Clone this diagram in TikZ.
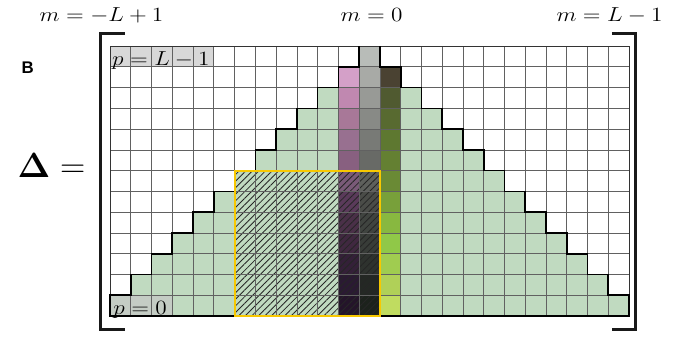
\documentclass[tikz,border=0pt]{standalone}
\usepackage[no-math]{fontspec}
\usetikzlibrary{patterns.meta}
\newfontfamily\panelfont{Liberation Sans}
\definecolor{cellgreen}{RGB}{192,218,192}
\definecolor{boxgold}{RGB}{248,200,0}
\newcommand{\widemath}[1]{\scalebox{1.15}[1]{$#1$}}

\begin{document}
\begin{tikzpicture}[x=0.519cm, y=0.519cm,
    cellline/.style={black!62, line width=0.5pt},
    stair/.style={black, line width=1.2pt, line join=miter},
    bracket/.style={black!90, line width=2pt},
    plabel/.style={fill=black!22, fill opacity=0.7},
    mathlabel/.style={font=\fontsize{14}{17}\selectfont, inner sep=0pt, anchor=base}]
    \useasboundingbox (-5.30,-1.06) rectangle (27.84,15.22);

    % nonzero entries
    \fill[cellgreen] (0,0) \foreach \k in {1,...,12} {-- (\k-1,\k) -- (\k,\k)} -- (12,13) -- (13,13)
        \foreach \k in {12,...,1} {-- (25-\k,\k) -- (26-\k,\k)} -- (25,0) -- cycle;

    % columns m=-1, m=0, m=1
    \foreach \r/\col in {0/24142A, 1/2A1A32, 2/342038, 3/402840, 4/4A3048, 5/5A3A5A,
                         6/7A5A78, 7/886080, 8/987090, 9/A87898, 10/C088B0, 11/D4A0C8} {
        \definecolor{tmpcol}{HTML}{\col}
        \fill[tmpcol] (11,\r) rectangle ++(1,1);
    }
    \foreach \r/\col in {0/1C221C, 1/242824, 2/2E322E, 3/383C38, 4/404440, 5/4A4C48, 6/5E605C,
                         7/686A66, 8/787A76, 9/888A86, 10/989A96, 11/A8AAA6, 12/B8BCB8} {
        \definecolor{tmpcol}{HTML}{\col}
        \fill[tmpcol] (12,\r) rectangle ++(1,1);
    }
    \foreach \r/\col in {0/C0DC60, 1/B0D058, 2/A0CC50, 3/90C848, 4/88B840, 5/78A03A,
                         6/6A8A35, 7/648032, 8/5E7830, 9/586A30, 10/505A30, 11/4A4232} {
        \definecolor{tmpcol}{HTML}{\col}
        \fill[tmpcol] (13,\r) rectangle ++(1,1);
    }

    \fill[plabel] (0,12) rectangle (5,13);
    \fill[plabel] (0,0) rectangle (3,1);

    \fill[pattern={Lines[angle=45, distance=3.3pt, line width=0.6pt]}, pattern color=black!85]
        (6,0) rectangle (13,7);

    \draw[cellline, step=1] (0,0) grid (25,13);
    \draw[black!80, line width=0.7pt] (0,0) rectangle (25,13);

    \draw[stair] (12,13) \foreach \k in {12,...,1} {-- (\k,\k) -- (\k-1,\k)} -- (0,0) -- (25,0)
        \foreach \k in {1,...,12} {-- (26-\k,\k) -- (25-\k,\k)} -- (13,13);

    \draw[boxgold, line width=1.4pt] (6,0) rectangle (13,7);

    \node[mathlabel] (ptop) at (2.45,12.05) {\widemath{p=L-1}};
    \node[mathlabel] (pbot) at (1.45,0.08) {\widemath{p=0}};

    \node[mathlabel] (mleft) at (-0.41,14.18) {\widemath{m=-L+1}};
    \node[mathlabel] (mzero) at (12.6,14.18) {\widemath{m=0}};
    \node[mathlabel] (mright) at (24.06,14.18) {\widemath{m=L-1}};

    \node (panel) at (-3.97,11.97) {\panelfont\bfseries\fontsize{12}{14}\selectfont B};
    \node (delta) at (-2.82,7.25) {\fontsize{24}{29}\selectfont $\mathbf{\Delta}=$};

    \draw[bracket] (0.72,13.60) -- (-0.46,13.60) -- (-0.46,-0.65) -- (0.72,-0.65);
    \draw[bracket] (24.17,13.60) -- (25.30,13.60) -- (25.30,-0.65) -- (24.17,-0.65);
\end{tikzpicture}
\end{document}
